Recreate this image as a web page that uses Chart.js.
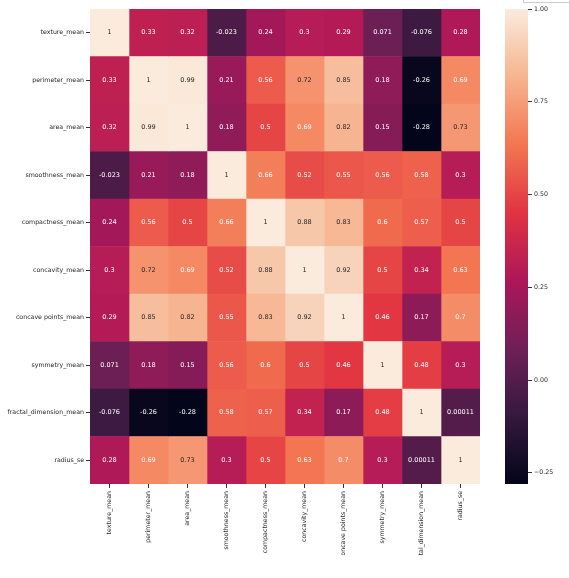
<!DOCTYPE html>
<html lang="en">
<head>
    <meta charset="UTF-8">
    <title>Correlation heatmap</title>
    <style>
        body {
    margin: 0;
    padding: 0;
    background-color: #fff;
    font-family: "DejaVu Sans", sans-serif;
}

.wrap {
    position: relative;
    width: 569px;
    height: 578px;
    overflow: hidden;
}

#heatmap {
    position: absolute;
    left: 0;
    top: 0;
}

#colorbar {
    position: absolute;
    left: 505px;
    top: 0;
}

.corner {
    position: absolute;
    left: 523px;
    top: -20px;
    width: 60px;
    height: 21px;
    border: 1px solid #ccc;
}
    </style>
</head>
<body>
    <div class="wrap">
        <canvas id="heatmap" width="569" height="555"></canvas>
        <canvas id="colorbar" width="64" height="493"></canvas>
        <div class="corner"></div>
    </div>
    <script src="https://cdn.jsdelivr.net/npm/chart.js"></script>
    <script>
// Feature names (rows and columns, same order)
const features = ['texture_mean', 'perimeter_mean', 'area_mean', 'smoothness_mean', 'compactness_mean',
    'concavity_mean', 'concave points_mean', 'symmetry_mean', 'fractal_dimension_mean', 'radius_se'];

// Correlation rows
const rowTexture     = [1, 0.33, 0.32, -0.023, 0.24, 0.3, 0.29, 0.071, -0.076, 0.28];
const rowPerimeter   = [0.33, 1, 0.99, 0.21, 0.56, 0.72, 0.85, 0.18, -0.26, 0.69];
const rowArea        = [0.32, 0.99, 1, 0.18, 0.5, 0.69, 0.82, 0.15, -0.28, 0.73];
const rowSmoothness  = [-0.023, 0.21, 0.18, 1, 0.66, 0.52, 0.55, 0.56, 0.58, 0.3];
const rowCompactness = [0.24, 0.56, 0.5, 0.66, 1, 0.88, 0.83, 0.6, 0.57, 0.5];
const rowConcavity   = [0.3, 0.72, 0.69, 0.52, 0.88, 1, 0.92, 0.5, 0.34, 0.63];
const rowConcavePts  = [0.29, 0.85, 0.82, 0.55, 0.83, 0.92, 1, 0.46, 0.17, 0.7];
const rowSymmetry    = [0.071, 0.18, 0.15, 0.56, 0.6, 0.5, 0.46, 1, 0.48, 0.3];
const rowFractal     = [-0.076, -0.26, -0.28, 0.58, 0.57, 0.34, 0.17, 0.48, 1, 0.00011];
const rowRadiusSe    = [0.28, 0.69, 0.73, 0.3, 0.5, 0.63, 0.7, 0.3, 0.00011, 1];

// Colorbar tick values
const cbarTicks = [-0.25, 0, 0.25, 0.5, 0.75, 1];

const corr = [rowTexture, rowPerimeter, rowArea, rowSmoothness, rowCompactness,
    rowConcavity, rowConcavePts, rowSymmetry, rowFractal, rowRadiusSe];

const vmin = Math.min(...corr.flat());
const vmax = Math.max(...corr.flat());

// seaborn "rocket" colormap, approximated
const rocketStops = [
    [0.000, [3, 5, 26]],
    [0.143, [53, 25, 62]],
    [0.286, [112, 31, 87]],
    [0.429, [173, 23, 89]],
    [0.571, [225, 51, 66]],
    [0.714, [243, 118, 81]],
    [0.857, [246, 180, 143]],
    [1.000, [250, 235, 221]]
];

function rocket(t) {
    t = Math.min(1, Math.max(0, t));
    for (let i = 1; i < rocketStops.length; i++) {
        const [p0, c0] = rocketStops[i - 1];
        const [p1, c1] = rocketStops[i];
        if (t <= p1) {
            const f = (t - p0) / (p1 - p0);
            return c0.map((c, k) => Math.round(c + (c1[k] - c) * f));
        }
    }
    return rocketStops[rocketStops.length - 1][1];
}

const rgb = c => `rgb(${c[0]}, ${c[1]}, ${c[2]})`;
const cellColor = v => rocket((v - vmin) / (vmax - vmin));

// same rule seaborn uses to pick annotation colour
function textColor(c) {
    const lin = c.map(x => {
        x /= 255;
        return x <= 0.03928 ? x / 12.92 : Math.pow((x + 0.055) / 1.055, 2.4);
    });
    const lum = 0.2126 * lin[0] + 0.7152 * lin[1] + 0.0722 * lin[2];
    return lum > 0.408 ? '#262626' : '#ffffff';
}

const fmt = v => String(Number(v.toPrecision(2)));

const tickFont = { family: '"DejaVu Sans", sans-serif', size: 6.25 };

const cellLabels = {
    id: 'cellLabels',
    afterDatasetsDraw(chart) {
        const ctx = chart.ctx;
        ctx.save();
        ctx.font = '6.5px "DejaVu Sans", sans-serif';
        ctx.textAlign = 'center';
        ctx.textBaseline = 'middle';
        chart.data.datasets.forEach((ds, j) => {
            chart.getDatasetMeta(j).data.forEach((bar, i) => {
                const v = corr[i][j];
                ctx.fillStyle = textColor(cellColor(v));
                ctx.fillText(fmt(v), (bar.x + bar.base) / 2, bar.y);
            });
        });
        ctx.restore();
    }
};

// Heatmap: one stacked horizontal bar per column, one unit wide
new Chart(document.getElementById('heatmap'), {
    type: 'bar',
    data: {
        labels: features,
        datasets: features.map((col, j) => ({
            label: col,
            data: corr.map(() => 1),
            backgroundColor: corr.map(row => rgb(cellColor(row[j]))),
            borderWidth: 0,
            barPercentage: 1,
            categoryPercentage: 1
        }))
    },
    options: {
        indexAxis: 'y',
        responsive: false,
        animation: false,
        layout: { padding: { left: 0, right: 89, top: 9, bottom: 0 } },
        plugins: { legend: { display: false }, tooltip: { enabled: false } },
        scales: {
            x: {
                type: 'linear',
                stacked: true,
                min: 0,
                max: features.length,
                afterBuildTicks: s => { s.ticks = features.map((_, j) => ({ value: j + 0.5 })); },
                afterFit: s => { s.height = 71; },
                ticks: {
                    autoSkip: false,
                    minRotation: 90,
                    maxRotation: 90,
                    padding: 3,
                    color: '#262626',
                    font: tickFont,
                    callback: (v, i) => features[i]
                },
                grid: { drawOnChartArea: false, tickLength: 4, color: '#333' },
                border: { display: false }
            },
            y: {
                stacked: true,
                afterFit: s => { s.width = 90; },
                ticks: { autoSkip: false, padding: 2, color: '#262626', font: tickFont },
                grid: { offset: false, drawOnChartArea: false, tickLength: 4, color: '#333' },
                border: { display: false }
            }
        }
    },
    plugins: [cellLabels]
});

// Colorbar
new Chart(document.getElementById('colorbar'), {
    type: 'bar',
    data: {
        labels: ['corr'],
        datasets: [{
            data: [[vmin, vmax]],
            backgroundColor: c => {
                const a = c.chart.chartArea;
                if (!a) return null;
                const g = c.chart.ctx.createLinearGradient(0, a.bottom, 0, a.top);
                rocketStops.forEach(([p, col]) => g.addColorStop(p, rgb(col)));
                return g;
            },
            borderWidth: 0,
            barPercentage: 1,
            categoryPercentage: 1
        }]
    },
    options: {
        responsive: false,
        animation: false,
        layout: { padding: { left: 0, right: 0, top: 9, bottom: 9 } },
        plugins: { legend: { display: false }, tooltip: { enabled: false } },
        scales: {
            x: { display: false },
            y: {
                type: 'linear',
                position: 'right',
                min: vmin,
                max: vmax,
                afterBuildTicks: s => { s.ticks = cbarTicks.map(v => ({ value: v })); },
                afterFit: s => { s.width = 41; },
                ticks: {
                    padding: 2,
                    color: '#262626',
                    font: tickFont,
                    callback: v => (v < 0 ? '\u2212' : '') + Math.abs(v).toFixed(2)
                },
                grid: { drawOnChartArea: false, tickLength: 4, color: '#333' },
                border: { display: false }
            }
        }
    }
});
    </script>
</body>
</html>
